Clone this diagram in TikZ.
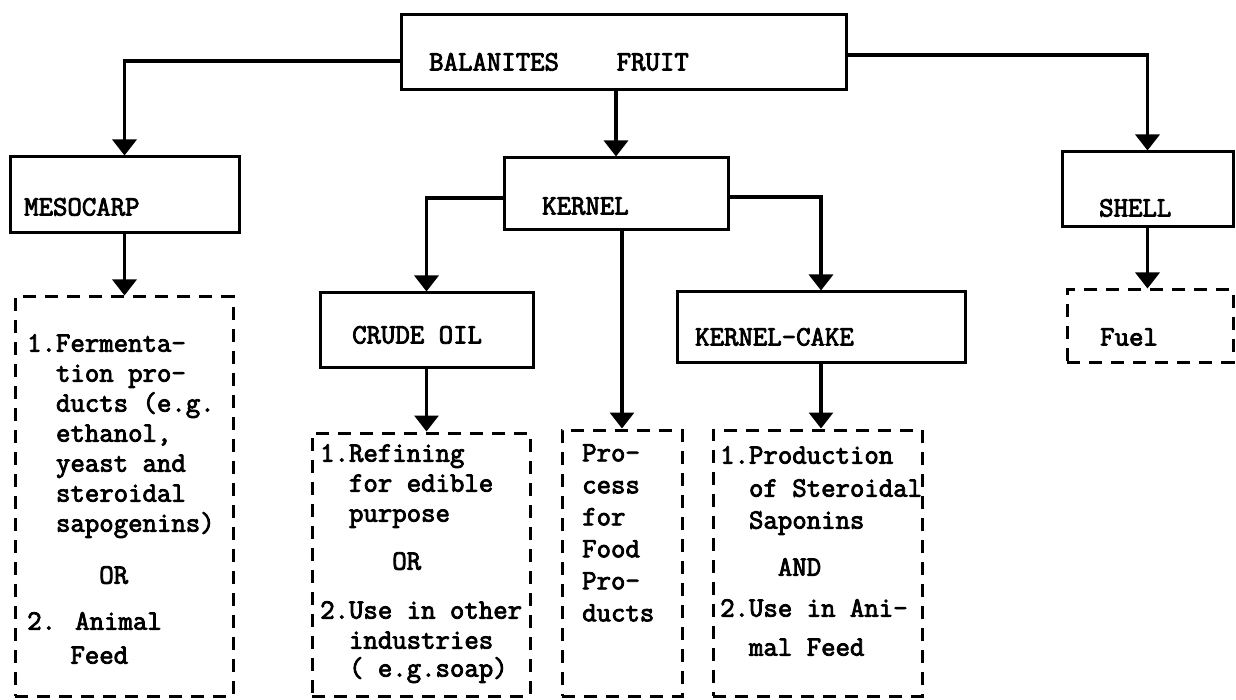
\documentclass[tikz,border=0pt]{standalone}
\usepackage{fontspec}
\newfontfamily\tw[FakeBold=3]{Latin Modern Mono}
\usetikzlibrary{arrows.meta,fit}
\tikzset{
  solidbox/.style={draw=black, line width=3pt, inner sep=0pt},
  dashbox/.style={draw=black, line width=3pt, inner sep=0pt, dash pattern=on 13pt off 9pt},
  arr/.style={draw=black, line width=3.2pt, -{Triangle[width=24pt,length=16pt]}},
  lbl/.style={anchor=base west, inner sep=0pt, font=\tw\fontsize{28}{30}\selectfont},
  body/.style={anchor=north west, inner sep=0pt, align=left, font=\tw\fontsize{28}{30}\selectfont}
}
\begin{document}
\begin{tikzpicture}[x=1pt,y=-1pt]
\useasboundingbox[fill=white] (0,0) rectangle (1236,700);
% solid boxes
\node[solidbox, fit={(401,15) (846,90)}] (fruit) {};
\node[solidbox, fit={(10,157) (239,233)}] (meso) {};
\node[solidbox, fit={(504,158) (728,230)}] (kernel) {};
\node[solidbox, fit={(1062,152) (1233,227)}] (shell) {};
\node[solidbox, fit={(320,293) (533,367)}] (crude) {};
\node[solidbox, fit={(677,292) (965,362)}] (cake) {};
% dashed boxes
\node[dashbox, fit={(15,297) (233,696)}] (mesoD) {};
\node[dashbox, fit={(312,433) (530,696)}] (crudeD) {};
\node[dashbox, fit={(562,430) (682,696)}] (proc) {};
\node[dashbox, fit={(713,430) (922,696)}] (cakeD) {};
\node[dashbox, fit={(1067,290) (1233,362)}] (fuel) {};
% labels
\node[lbl] (tfruit) at (429,70.5) {BALANITES~~~~FRUIT};
\node[lbl] (tmeso) at (24,215.5) {MESOCARP};
\node[lbl] (tkern) at (542,214.5) {KERNEL};
\node[lbl] (tshell) at (1099,216.5) {SHELL};
\node[lbl] (tcrude) at (352,343.5) {CRUDE OIL};
\node[lbl] (tcake) at (695,345.5) {KERNEL-CAKE};
\node[lbl] (tfuel) at (1100,345.5) {Fuel};
% body texts
\node[body] (bmeso) at (27,334) {1.Fermenta-\\
~~tion pro-\\
~~ducts (e.g.\\
~~ethanol,\\
~~yeast and\\
~~steroidal\\
~~sapogenins)\\[22pt]
~~~~~OR\\[16pt]
2. Animal\\[4pt]
~~~Feed};
\node[body] (bcrude) at (320,444) {1.Refining\\
~~for edible\\
~~purpose\\[18pt]
~~~~~OR\\[19pt]
2.Use in other\\
~~industries\\[-2pt]
~~( e.g.soap)};
\node[body] (bproc) at (582,444) {Pro-\\[2pt]
cess\\[2pt]
for\\[2pt]
Food\\[2pt]
Pro-\\[2pt]
ducts};
\node[body] (bcake) at (720,446) {1.Production\\[3pt]
~~of Steroidal\\[2pt]
~~Saponins\\[17pt]
~~~~AND\\[11pt]
2.Use in Ani-\\[9pt]
~~mal Feed};
% connectors
\draw[arr] (fruit.west) ++(0,8.5) -| (meso.north);
\draw[arr] (fruit.south -| kernel.north) -- (kernel.north);
\draw[arr] (fruit.east) ++(0,2.5) -| (shell.north);
\draw[arr] (meso.south) -- (meso.south |- mesoD.north);
\draw[arr] (kernel.west) ++(0,4) -| (crude.north);
\draw[arr] (kernel.east) ++(0,3) -| (cake.north);
\draw[arr] (kernel.south -| proc.north) -- (proc.north);
\draw[arr] (crude.south) -- (crude.south |- crudeD.north);
\draw[arr] (cake.south) -- (cake.south |- cakeD.north);
\draw[arr] (shell.south) -- (shell.south |- fuel.north);
\end{tikzpicture}
\end{document}
